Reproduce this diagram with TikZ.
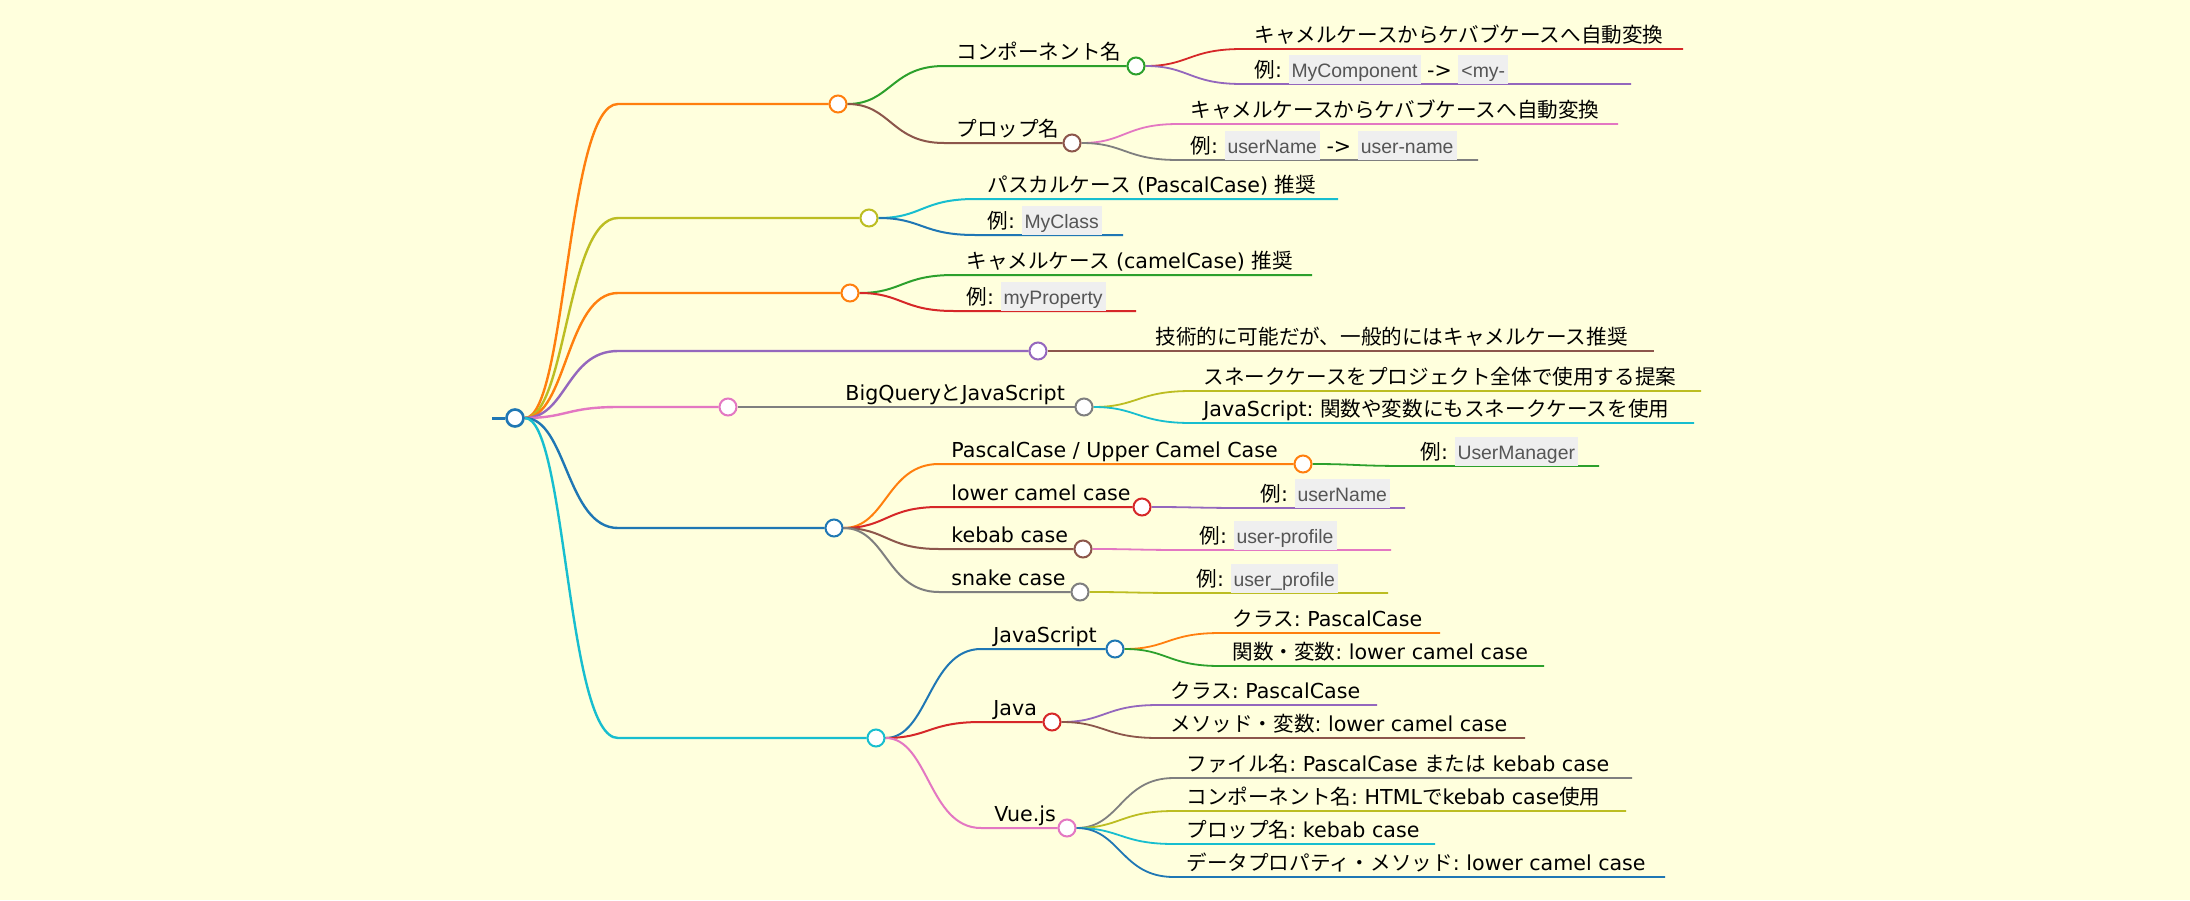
\documentclass[tikz,border=0pt]{standalone}
\usepackage{fontspec}
\setmainfont{DejaVu Sans}
\newfontfamily\jp{Noto Sans CJK JP}
\newfontfamily\codefamily{Liberation Sans}
\usetikzlibrary{calc}
\frenchspacing

\definecolor{bgcol}{HTML}{FFFFDD}
\definecolor{codebg}{HTML}{EFEFEF}
\definecolor{codetx}{HTML}{555555}
\definecolor{mblue}{HTML}{1F77B4}
\definecolor{morange}{HTML}{FF7F0E}
\definecolor{mgreen}{HTML}{2CA02C}
\definecolor{mred}{HTML}{D62728}
\definecolor{mpurple}{HTML}{9467BD}
\definecolor{mbrown}{HTML}{8C564B}
\definecolor{mpink}{HTML}{E377C2}
\definecolor{mgray}{HTML}{7F7F7F}
\definecolor{molive}{HTML}{BCBD22}
\definecolor{mcyan}{HTML}{17BECF}

\pgfdeclarelayer{bg}
\pgfsetlayers{bg,main}

% inline code box, its bottom sits on the branch line
\newcommand\code[1]{{\setlength{\fboxsep}{0pt}\colorbox{codebg}{\rule[-3.5pt]{0pt}{14.5pt}\hspace{1.5pt}\codefamily\fontsize{9.7pt}{11pt}\selectfont\color{codetx}#1\hspace{1.5pt}}}}

\begin{document}
\begin{tikzpicture}[
        x=0.5pt, y=-0.5pt,
        dot/.style={
            circle,
            draw,
            fill=white,
            line width=1pt,
            minimum size=8.5pt,
            inner sep=0pt
        },
        lbl/.style={anchor=base west, inner sep=0pt, font={\fontsize{10.3pt}{12pt}\selectfont}},
        link/.style={to path={let \p1=(\tikztostart), \p2=(\tikztotarget) in
            .. controls ({(\x1+\x2)/2},\y1) and ({(\x1+\x2)/2},\y2) .. (\tikztotarget)}},
        lv1/.style={line width=1.2pt},
        lv2/.style={line width=1pt},
        lv3/.style={line width=0.9pt}
    ]

    \useasboundingbox (0,0) rectangle (2190,900);

    % root
    \coordinate (rootw) at (492,418);
    \node[dot, draw=mblue, line width=1.3pt] (root) at (515,418) {};

    % first level
    \node[dot, draw=morange] (k1) at (838,104) {};
    \node[dot, draw=molive]  (k2) at (869,218) {};
    \node[dot, draw=morange] (k3) at (850,293) {};
    \node[dot, draw=mpurple] (k4) at (1038,351) {};
    \node[dot, draw=mpink]   (k5) at (728,407) {};
    \node[dot, draw=mblue]   (k6) at (834,528) {};
    \node[dot, draw=mcyan]   (k7) at (876,738) {};
    \foreach \i/\y in {1/104,2/218,3/293,4/351,5/407,6/528,7/738}
        \coordinate (s\i) at (618,\y);

    % k1
    \coordinate (s1a) at (944,66);
    \node[dot, draw=mgreen] (k1a) at (1136,66) {};
    \node[lbl] (t1a) at (956,59) {{\jp コンポーネント名}};
    \coordinate (s1a1) at (1242,49);
    \coordinate (e1a1) at (1683,49);
    \node[lbl] (t1a1) at (1254,42) {{\jp キャメルケースからケバブケースへ自動変換}};
    \coordinate (s1a2) at (1242,84);
    \coordinate (e1a2) at (1631,84);
    \node[lbl] (t1a2) at (1254,77) {{\jp 例}: \code{MyComponent} -> \code{<my-}};

    \coordinate (s1b) at (944,143);
    \node[dot, draw=mbrown] (k1b) at (1072,143) {};
    \node[lbl] (t1b) at (956,136) {{\jp プロップ名}};
    \coordinate (s1b1) at (1178,124);
    \coordinate (e1b1) at (1618,124);
    \node[lbl] (t1b1) at (1190,117) {{\jp キャメルケースからケバブケースへ自動変換}};
    \coordinate (s1b2) at (1178,160);
    \coordinate (e1b2) at (1478,160);
    \node[lbl] (t1b2) at (1190,153) {{\jp 例}: \code{userName} -> \code{user-name}};

    % k2
    \coordinate (s2a) at (975,199);
    \coordinate (e2a) at (1338,199);
    \node[lbl] (t2a) at (987,192) {{\jp パスカルケース} (PascalCase) {\jp 推奨}};
    \coordinate (s2b) at (975,235);
    \coordinate (e2b) at (1123,235);
    \node[lbl] (t2b) at (987,228) {{\jp 例}: \code{MyClass}};

    % k3
    \coordinate (s3a) at (954,275);
    \coordinate (e3a) at (1312,275);
    \node[lbl] (t3a) at (966,268) {{\jp キャメルケース} (camelCase) {\jp 推奨}};
    \coordinate (s3b) at (954,311);
    \coordinate (e3b) at (1136,311);
    \node[lbl] (t3b) at (966,304) {{\jp 例}: \code{myProperty}};

    % k4
    \coordinate (s4a) at (1143,351);
    \coordinate (e4a) at (1654,351);
    \node[lbl] (t4a) at (1155,344) {{\jp 技術的に可能だが、一般的にはキャメルケース推奨}};

    % k5
    \coordinate (s5a) at (833,407);
    \node[dot, draw=mgray] (k5a) at (1084,407) {};
    \node[lbl] (t5a) at (845,400) {BigQuery{\jp と}JavaScript};
    \coordinate (s5a1) at (1191,391);
    \coordinate (e5a1) at (1701,391);
    \node[lbl] (t5a1) at (1203,384) {{\jp スネークケースをプロジェクト全体で使用する提案}};
    \coordinate (s5a2) at (1191,423);
    \coordinate (e5a2) at (1694,423);
    \node[lbl] (t5a2) at (1203,416) {JavaScript: {\jp 関数や変数にもスネークケースを使用}};

    % k6
    \coordinate (s6a) at (939,464);
    \node[dot, draw=morange] (k6a) at (1303,464) {};
    \node[lbl] (t6a) at (951,457) {PascalCase / Upper Camel Case};
    \coordinate (s6a1) at (1408,466);
    \coordinate (e6a1) at (1599,466);
    \node[lbl] (t6a1) at (1420,459) {{\jp 例}: \code{UserManager}};

    \coordinate (s6b) at (939,507);
    \node[dot, draw=mred] (k6b) at (1142,507) {};
    \node[lbl] (t6b) at (951,500) {lower camel case};
    \coordinate (s6b1) at (1248,508);
    \coordinate (e6b1) at (1405,508);
    \node[lbl] (t6b1) at (1260,501) {{\jp 例}: \code{userName}};

    \coordinate (s6c) at (939,549);
    \node[dot, draw=mbrown] (k6c) at (1083,549) {};
    \node[lbl] (t6c) at (951,542) {kebab case};
    \coordinate (s6c1) at (1187,550);
    \coordinate (e6c1) at (1391,550);
    \node[lbl] (t6c1) at (1199,543) {{\jp 例}: \code{user-profile}};

    \coordinate (s6d) at (939,592);
    \node[dot, draw=mgray] (k6d) at (1080,592) {};
    \node[lbl] (t6d) at (951,585) {snake case};
    \coordinate (s6d1) at (1184,593);
    \coordinate (e6d1) at (1388,593);
    \node[lbl] (t6d1) at (1196,586) {{\jp 例}: \code{user\_profile}};

    % k7
    \coordinate (s7a) at (981,649);
    \node[dot, draw=mblue] (k7a) at (1115,649) {};
    \node[lbl] (t7a) at (993,642) {JavaScript};
    \coordinate (s7a1) at (1220,633);
    \coordinate (e7a1) at (1440,633);
    \node[lbl] (t7a1) at (1232,626) {{\jp クラス}: PascalCase};
    \coordinate (s7a2) at (1220,666);
    \coordinate (e7a2) at (1544,666);
    \node[lbl] (t7a2) at (1232,659) {{\jp 関数・変数}: lower camel case};

    \coordinate (s7b) at (981,722);
    \node[dot, draw=mred] (k7b) at (1052,722) {};
    \node[lbl] (t7b) at (993,715) {Java};
    \coordinate (s7b1) at (1158,705);
    \coordinate (e7b1) at (1377,705);
    \node[lbl] (t7b1) at (1170,698) {{\jp クラス}: PascalCase};
    \coordinate (s7b2) at (1158,738);
    \coordinate (e7b2) at (1525,738);
    \node[lbl] (t7b2) at (1170,731) {{\jp メソッド・変数}: lower camel case};

    \coordinate (s7c) at (981,828);
    \node[dot, draw=mpink] (k7c) at (1067,828) {};
    \node[lbl] (t7c) at (994,821) {Vue.js};
    \coordinate (s7c1) at (1174,778);
    \coordinate (e7c1) at (1632,778);
    \node[lbl] (t7c1) at (1186,771) {{\jp ファイル名}: PascalCase {\jp または} kebab case};
    \coordinate (s7c2) at (1174,811);
    \coordinate (e7c2) at (1626,811);
    \node[lbl] (t7c2) at (1186,804) {{\jp コンポーネント名}: HTML{\jp で}kebab case{\jp 使用}};
    \coordinate (s7c3) at (1174,844);
    \coordinate (e7c3) at (1435,844);
    \node[lbl] (t7c3) at (1186,837) {{\jp プロップ名}: kebab case};
    \coordinate (s7c4) at (1174,877);
    \coordinate (e7c4) at (1665,877);
    \node[lbl] (t7c4) at (1186,870) {{\jp データプロパティ・メソッド}: lower camel case};

    % background and branches, behind the dots
    \begin{pgfonlayer}{bg}
        \fill[bgcol] (0,0) rectangle (2190,900);
        \draw[mblue, line width=1.5pt] (rootw) -- (root);
        \foreach \i/\c in {1/morange,2/molive,3/morange,4/mpurple,5/mpink,6/mblue,7/mcyan}
            \draw[link, lv1, \c] (root) to (s\i) -- (k\i);

        \draw[link, lv2, mgreen] (k1) to (s1a) -- (k1a);
        \draw[link, lv3, mred] (k1a) to (s1a1) -- (e1a1);
        \draw[link, lv3, mpurple] (k1a) to (s1a2) -- (e1a2);
        \draw[link, lv2, mbrown] (k1) to (s1b) -- (k1b);
        \draw[link, lv3, mpink] (k1b) to (s1b1) -- (e1b1);
        \draw[link, lv3, mgray] (k1b) to (s1b2) -- (e1b2);

        \draw[link, lv2, mcyan] (k2) to (s2a) -- (e2a);
        \draw[link, lv2, mblue] (k2) to (s2b) -- (e2b);

        \draw[link, lv2, mgreen] (k3) to (s3a) -- (e3a);
        \draw[link, lv2, mred] (k3) to (s3b) -- (e3b);

        \draw[link, lv2, mbrown] (k4) to (s4a) -- (e4a);

        \draw[link, lv2, mgray] (k5) to (s5a) -- (k5a);
        \draw[link, lv3, molive] (k5a) to (s5a1) -- (e5a1);
        \draw[link, lv3, mcyan] (k5a) to (s5a2) -- (e5a2);

        \draw[link, lv2, morange] (k6) to (s6a) -- (k6a);
        \draw[link, lv3, mgreen] (k6a) to (s6a1) -- (e6a1);
        \draw[link, lv2, mred] (k6) to (s6b) -- (k6b);
        \draw[link, lv3, mpurple] (k6b) to (s6b1) -- (e6b1);
        \draw[link, lv2, mbrown] (k6) to (s6c) -- (k6c);
        \draw[link, lv3, mpink] (k6c) to (s6c1) -- (e6c1);
        \draw[link, lv2, mgray] (k6) to (s6d) -- (k6d);
        \draw[link, lv3, molive] (k6d) to (s6d1) -- (e6d1);

        \draw[link, lv2, mblue] (k7) to (s7a) -- (k7a);
        \draw[link, lv3, morange] (k7a) to (s7a1) -- (e7a1);
        \draw[link, lv3, mgreen] (k7a) to (s7a2) -- (e7a2);
        \draw[link, lv2, mred] (k7) to (s7b) -- (k7b);
        \draw[link, lv3, mpurple] (k7b) to (s7b1) -- (e7b1);
        \draw[link, lv3, mbrown] (k7b) to (s7b2) -- (e7b2);
        \draw[link, lv2, mpink] (k7) to (s7c) -- (k7c);
        \draw[link, lv3, mgray] (k7c) to (s7c1) -- (e7c1);
        \draw[link, lv3, molive] (k7c) to (s7c2) -- (e7c2);
        \draw[link, lv3, mcyan] (k7c) to (s7c3) -- (e7c3);
        \draw[link, lv3, mblue] (k7c) to (s7c4) -- (e7c4);
    \end{pgfonlayer}

\end{tikzpicture}
\end{document}
